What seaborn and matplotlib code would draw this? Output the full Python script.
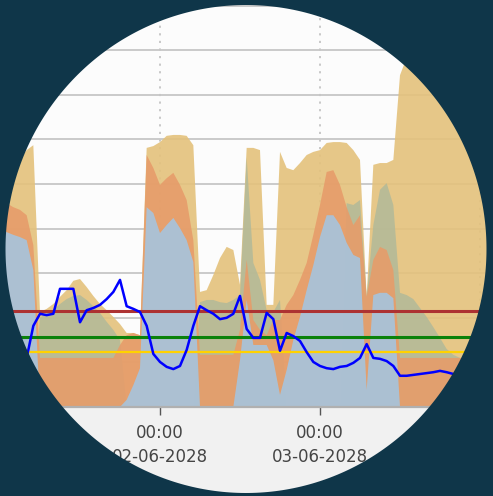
import numpy as np
import pandas as pd
import matplotlib
matplotlib.use("Agg")
import matplotlib.pyplot as plt
import matplotlib.dates as mdates
from matplotlib.ticker import MultipleLocator, FixedLocator
from matplotlib.path import Path
from matplotlib.patches import PathPatch
import seaborn as sns

# hourly samples from 01-06-2028 00:00
hours = pd.date_range("2028-06-01 00:00", periods=75, freq="h")
tick_days = pd.to_datetime(["2028-06-02", "2028-06-03"])
grid_days = pd.to_datetime(["2028-06-01", "2028-06-02", "2028-06-03", "2028-06-04"])

blue_area = [3.97, 3.92, 3.86, 3.81, 3.74, 3.07,
             0, 0, 0, 0, 0, 0, 0, 0, 0, 0, 0, 0,
             0, 0.16, 0.49, 0.87,
             4.48, 4.35, 3.90, 4.08, 4.24, 4.01, 3.74, 3.25,
             0, 0, 0, 0, 0, 0,
             1.05, 2.40, 1.39, 1.39, 1.39, 1.05, 0.27, 0.83, 1.50, 2.02, 2.62, 3.18,
             3.81, 4.30, 4.30, 4.08, 3.68, 3.41, 3.34, 0.38, 2.51, 2.56, 2.56, 2.44,
             0, 0, 0, 0, 0, 0, 0, 0, 0, 0, 0, 0, 0, 0, 0]

orange_area = [4.64, 4.57, 4.48, 4.42, 4.30, 3.63,
               1.10, 1.10, 1.10, 1.10, 1.10, 1.10, 1.10, 1.10, 1.10, 1.10, 1.10, 1.10,
               1.39, 1.61, 1.66, 1.61,
               5.65, 5.36, 4.98, 5.13, 5.25, 4.98, 4.64, 3.74,
               1.17, 1.17, 1.17, 1.17, 1.17, 1.17,
               1.73, 3.30, 1.95, 1.73, 1.61, 1.95, 1.95, 2.29, 2.51, 2.85, 3.23, 3.86,
               4.53, 5.27, 5.31, 4.98, 4.48, 4.08, 4.30, 2.47, 3.30, 3.59, 3.52, 3.07,
               1.10, 1.10, 1.10, 1.10, 1.10, 1.10, 1.10, 1.10, 1.10, 1.10, 1.10, 1.10,
               1.10, 1.10, 1.10]

sage_area = [0, 0, 0, 0, 0, 0,
             2.00, 2.11, 2.17, 2.31, 2.42, 2.49, 2.51, 2.40, 2.26, 2.11, 1.91, 1.73, 1.50,
             0, 0, 0, 0, 0, 0, 0, 0, 0, 0, 0,
             2.35, 2.40, 2.40, 2.35, 2.33, 2.40, 2.51, 5.60, 3.23, 2.85, 2.17, 2.13, 2.40,
             0, 0, 0, 0, 0, 0, 0, 0, 0,
             4.57, 4.53, 4.64, 2.47, 4.08, 4.87, 5.02, 4.53,
             2.56, 2.51, 2.42, 2.22, 2.02, 1.79, 1.55, 1.30, 1.17, 1.10,
             0, 0, 0, 0, 0]

tan_area = [5.09, 5.20, 5.43, 5.58, 5.76, 5.87,
            2.13, 2.20, 2.31, 2.47, 2.62, 2.83, 2.87, 2.69, 2.49, 2.31, 2.17, 2.02,
            1.86, 1.66, 1.66, 1.61,
            5.81, 5.85, 5.94, 6.08, 6.10, 6.10, 6.08, 5.87,
            2.58, 2.62, 2.96, 3.34, 3.59, 3.52, 2.74, 5.81, 5.81, 5.76, 2.29, 2.29,
            5.72, 5.36, 5.31, 5.47, 5.65, 5.72, 5.76, 5.92, 5.94, 5.94, 5.92, 5.76,
            5.54, 2.47, 5.43, 5.47, 5.47, 5.54,
            7.44, 7.83, 7.83, 7.83, 7.83, 7.83, 7.83, 7.83, 6.32, 7.83, 7.83, 7.83,
            7.83, 7.83, 7.83]

blue_line = [0.90, 0.85, 0.85, 0.90, 1.10, 1.82, 2.09, 2.06, 2.09, 2.65,
             2.65, 2.65, 1.90, 2.17, 2.22, 2.29, 2.42, 2.58, 2.85, 2.26,
             2.20, 2.13, 1.82, 1.19, 1.01, 0.90, 0.85, 0.92, 1.28, 1.82,
             2.26, 2.17, 2.09, 1.97, 2.00, 2.09, 2.49, 1.75, 1.55, 1.55,
             2.11, 1.97, 1.26, 1.66, 1.59, 1.48, 1.23, 1.01, 0.92, 0.87,
             0.85, 0.90, 0.92, 0.99, 1.10, 1.41, 1.10, 1.08, 1.03, 0.92,
             0.70, 0.70, 0.72, 0.74, 0.76, 0.78, 0.81, 0.78, 0.74, 0.70,
             0.65, 0.63, 0.62, 0.60, 0.60]

red_limit = 2.15
green_limit = 1.57
yellow_limit = 1.23

df = pd.DataFrame({
    "time": hours,
    "tan": tan_area,
    "sage": sage_area,
    "orange": orange_area,
    "blue": blue_area,
    "line": blue_line,
})

sns.set_theme(style="white")
plt.rcParams["font.family"] = ["DejaVu Sans"]

fig = plt.figure(figsize=(4.93, 4.96), dpi=100, facecolor="#f1f1f1")
ax = fig.add_axes([0, 89 / 496, 1, 407 / 496])
ax.set_facecolor("#fcfcfc")

area_colors = {"tan": "#e4c27c", "sage": "#b4ba98", "orange": "#e69c6a", "blue": "#a6c4de"}
for col, color in area_colors.items():
    ax.fill_between(df["time"], 0, df[col], color=color, lw=0, alpha=0.9, zorder=2)

ax.axhline(yellow_limit, color="#ffd200", lw=1.6, zorder=3)
ax.axhline(green_limit, color="#0a820a", lw=2.2, zorder=3)
ax.axhline(red_limit, color="#ad3232", lw=2.2, zorder=3)

sns.lineplot(data=df, x="time", y="line", color="#0000ff", lw=1.8, ax=ax, zorder=4)

ax.set_xlim(hours[0], hours[0] + pd.Timedelta(hours=73.95))
ax.set_ylim(0, 407 / 44.6)
ax.yaxis.set_major_locator(MultipleLocator(1))
ax.xaxis.remove_overlapping_locs = False
ax.xaxis.set_major_locator(FixedLocator(mdates.date2num(tick_days)))
ax.xaxis.set_minor_locator(FixedLocator(mdates.date2num(grid_days)))
ax.xaxis.set_major_formatter(mdates.DateFormatter("%H:%M\n%d-%m-%Y"))
ax.set_axisbelow(True)
ax.grid(axis="y", which="major", color="#c6c6c6", lw=1.3)
ax.grid(axis="x", which="major", visible=False)
ax.grid(axis="x", which="minor", color="#c4c4c4", lw=1.3, ls=(0, (1.2, 3)))
ax.tick_params(axis="y", left=False, labelleft=False)
ax.tick_params(axis="x", which="minor", bottom=False)
ax.tick_params(axis="x", which="major", bottom=True, length=6, width=1, color="#555555",
               labelsize=12, labelcolor="#454545", pad=6)
for lab in ax.get_xticklabels():
    lab.set_linespacing(1.45)
for side in ["top", "left", "right"]:
    ax.spines[side].set_visible(False)
ax.spines["bottom"].set_color("#b0b0b0")
ax.spines["bottom"].set_linewidth(1.6)
ax.set_xlabel("")
ax.set_ylabel("")

# dark frame with a round window
mask_ax = fig.add_axes([0, 0, 1, 1], zorder=10)
mask_ax.set_xlim(0, 493)
mask_ax.set_ylim(496, 0)
mask_ax.axis("off")
rect = [(0, 0), (493, 0), (493, 496), (0, 496), (0, 0)]
theta = np.linspace(2 * np.pi, 0, 400)
circ = list(zip(246 + 240.5 * np.cos(theta), 249 + 244 * np.sin(theta)))
verts = rect + circ + [circ[0]]
codes = ([Path.MOVETO] + [Path.LINETO] * 3 + [Path.CLOSEPOLY]
         + [Path.MOVETO] + [Path.LINETO] * (len(circ) - 1) + [Path.CLOSEPOLY])
mask_ax.add_patch(PathPatch(Path(verts, codes), facecolor="#0f3649", edgecolor="none"))

fig.savefig("out.png", dpi=100, facecolor=fig.get_facecolor())
